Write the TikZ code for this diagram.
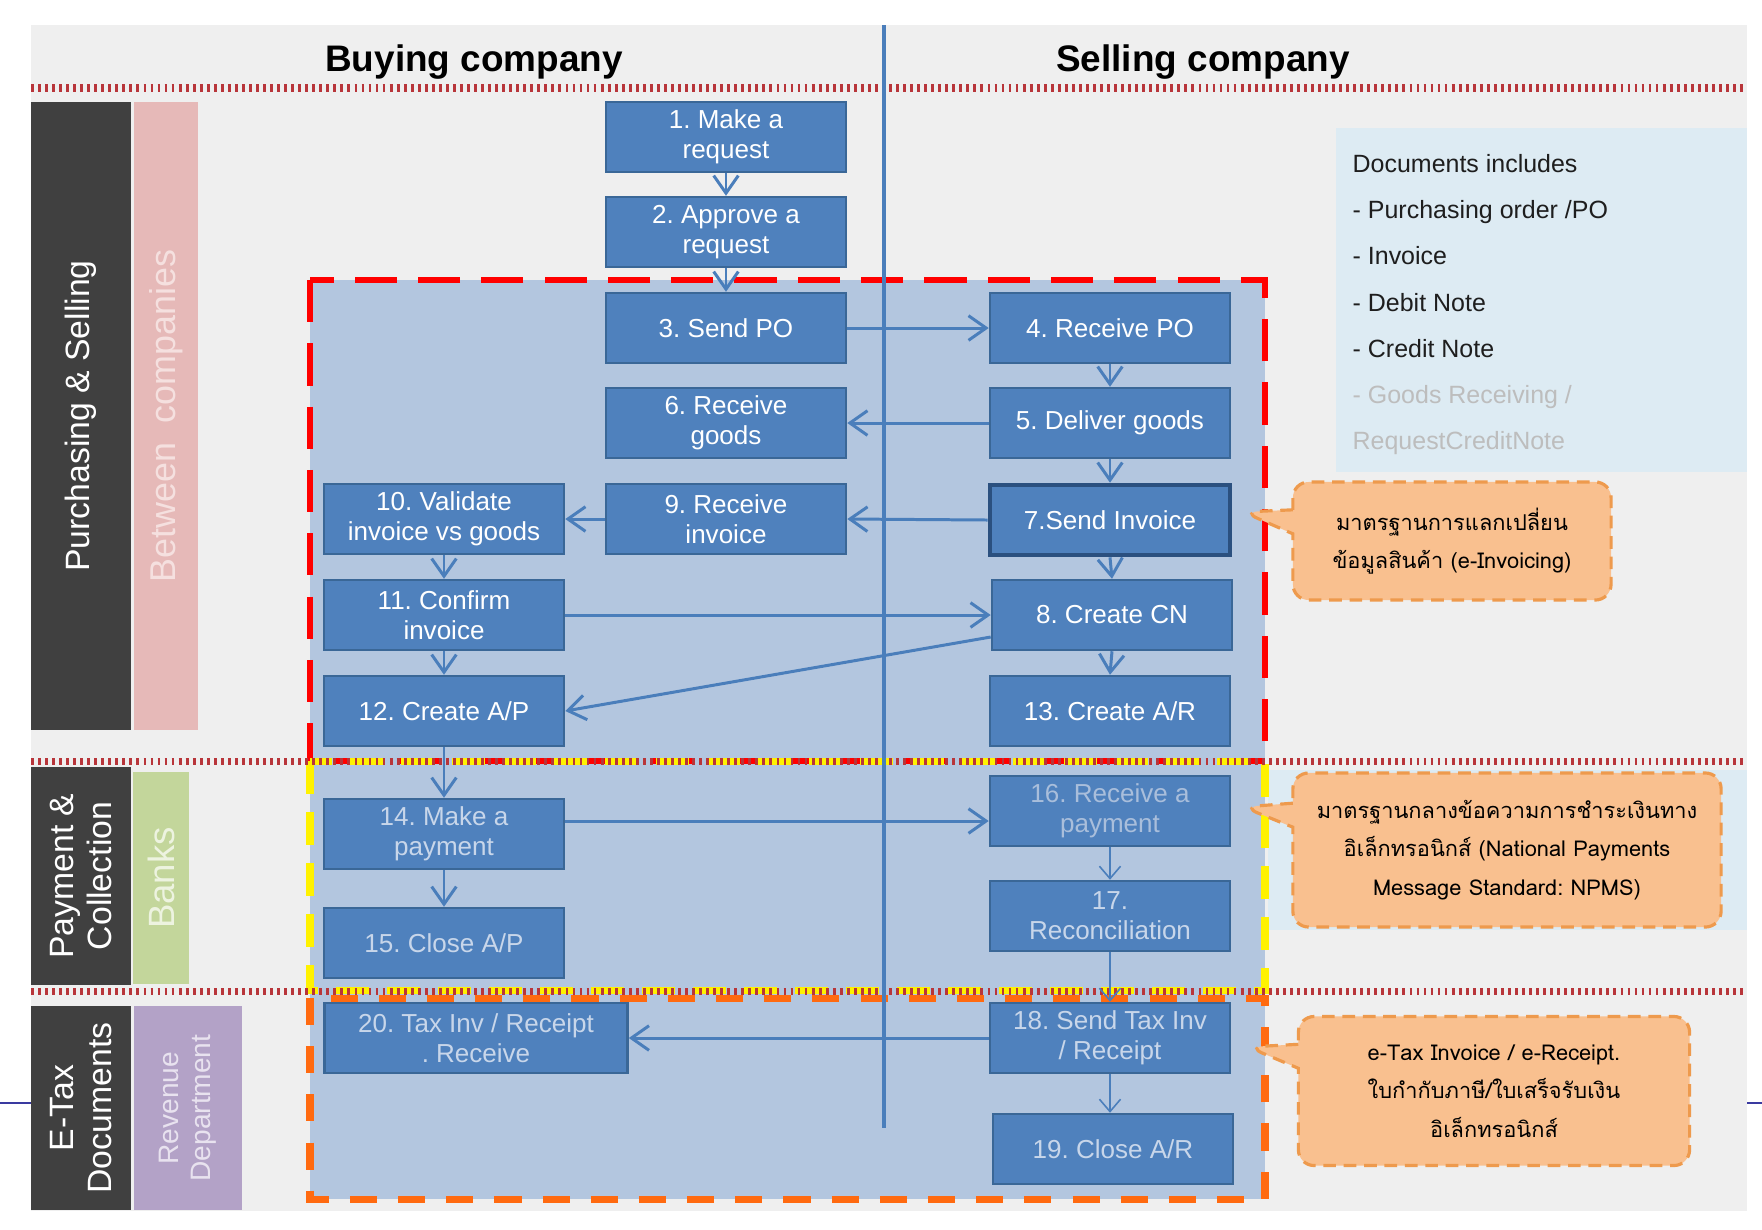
\documentclass[tikz,border=0pt]{standalone}
\usepackage{fontspec}
\setmainfont{Liberation Sans}
\newfontfamily\thaifont[Script=Thai]{Loma}
\usepackage{tikz}
\usetikzlibrary{arrows.meta,shapes.callouts}
\frenchspacing
\definecolor{panel}{HTML}{EFEFEF}
\definecolor{boxblue}{HTML}{4F81BD}
\definecolor{boxedge}{HTML}{3A6797}
\definecolor{boxdeep}{HTML}{2B507F}
\definecolor{zone}{HTML}{B3C6DF}
\definecolor{flowblue}{HTML}{4A7EBB}
\definecolor{dark}{HTML}{404040}
\definecolor{pinkband}{HTML}{E6B9B8}
\definecolor{pinktext}{HTML}{F5E0DF}
\definecolor{greenband}{HTML}{C3D69B}
\definecolor{greentext}{HTML}{EDF3E0}
\definecolor{purpleband}{HTML}{B3A2C7}
\definecolor{purpletext}{HTML}{E8E2EF}
\definecolor{sepred}{HTML}{B8353A}
\definecolor{calloutfill}{HTML}{F9C08F}
\definecolor{calloutedge}{HTML}{EE9A4D}
\definecolor{docfill}{HTML}{DDEBF3}
\definecolor{doctext}{HTML}{1E1E1E}
\definecolor{docfaint}{HTML}{BDBDBD}
\definecolor{fadetext}{HTML}{C8D6EA}
\definecolor{fainttext}{HTML}{A9BEDB}
\definecolor{orangezone}{HTML}{FF6A10}
\definecolor{edgeline}{HTML}{3A3AA0}
\tikzset{
  proc/.style={draw=boxedge, line width=0.7pt, fill=boxblue, text=white, minimum width=2.4cm,
    minimum height=0.7cm, inner sep=0pt, align=center, font=\fontsize{7.4}{8.5}\selectfont},
  procf/.style={proc, text=fadetext},
  flow/.style={draw=flowblue, line width=0.85pt, -{Straight Barb[length=5pt,width=7pt]}},
  flowt/.style={draw=flowblue, line width=0.45pt, -{Straight Barb[length=3.5pt,width=6pt]}},
  sep/.style={draw=sepred, line width=2pt, dash pattern=on 0.8pt off 1.2pt},
  axis/.style={draw=flowblue, line width=1pt},
  band/.style={rotate=90, align=center, inner sep=0pt, text=white, font=\fontsize{9.6}{10.8}\selectfont},
  head/.style={text=black, font=\bfseries\fontsize{10.5}{12}\selectfont},
  doc/.style={align=left, inner sep=0pt, text=doctext, font=\fontsize{7.1}{13.1}\selectfont},
  zonered/.style={draw=red, line width=1.6pt, dash pattern=on 12pt off 6pt},
  zoneyellow/.style={draw=yellow, line width=2pt, dash pattern=on 9.5pt off 5pt},
  zoneorange/.style={draw=orangezone, line width=2pt, dash pattern=on 7.7pt off 6pt},
  note/.style={rectangle callout, draw=calloutedge, fill=calloutfill, line width=0.9pt,
    dash pattern=on 3.6pt off 2.2pt, rounded corners=4.5pt, callout pointer width=0.24cm,
    align=center, inner sep=0pt, text=black, font=\thaifont\fontsize{6.2}{10.9}\selectfont}
}
\begin{document}
\begin{tikzpicture}[x=0.01cm, y=-0.01cm]
  \useasboundingbox (0,0) rectangle (1762,1229);
  \draw[edgeline, line width=0.6pt] (0,1103) -- (1762,1103);
  \fill[panel] (31,25) rectangle (1747,1211);
  \fill[docfill] (1336,128) rectangle (1747,472);
  \fill[docfill] (1268,770) rectangle (1747,930);

  % lanes
  \node[band, fill=dark, minimum width=6.27cm, minimum height=1.00cm] (lane1) at (81,416) {Purchasing \& Selling};
  \node[band, fill=pinkband, text=pinktext, minimum width=6.27cm, minimum height=0.63cm, font=\fontsize{10.2}{11}\selectfont] (sub1) at (166,416) {Between~ companies};
  \node[band, fill=dark, minimum width=2.17cm, minimum height=1.00cm] (lane2) at (81,876) {Payment \&\\Collection};
  \node[band, fill=greenband, text=greentext, minimum width=2.11cm, minimum height=0.55cm, font=\fontsize{10.4}{11}\selectfont] (sub2) at (161,878) {Banks};
  \node[band, fill=dark, minimum width=2.04cm, minimum height=1.00cm] (lane3) at (81,1108) {E-Tax\\Documents};
  \node[band, fill=purpleband, text=purpletext, minimum width=2.04cm, minimum height=1.08cm, font=\fontsize{8}{9}\selectfont] (sub3) at (188,1108) {Revenue\\Department};

  % zones
  \fill[zone] (310,280) rectangle (1265,1199);
  \draw[zonered] (310,280) rectangle (1265,761);
  \draw[zoneyellow] (310,761) rectangle (1265,990);
  \draw[zoneorange] (310,998) rectangle (1265,1199);
  \foreach \y in {88,761,991}
    \draw[sep] (31,\y) -- (1747,\y);

  \coordinate (axtop) at (884,25);
  \coordinate (axbot) at (884,1128);
  \draw[axis] (axtop) -- (axbot);

  \node[head] (buy) at (474,62) {Buying company};
  \node[head] (sell) at (1203,62) {Selling company};

  % steps
  \node[proc] (s1) at (726,137) {1. Make a\\request};
  \node[proc] (s2) at (726,232) {2. Approve a\\request};
  \node[proc] (s3) at (726,328) {3. Send PO};
  \node[proc] (s4) at (1110,328) {4. Receive PO};
  \node[proc] (s5) at (1110,423) {5. Deliver goods};
  \node[proc] (s6) at (726,423) {6. Receive\\goods};
  \node[proc, draw=boxdeep, line width=1.3pt] (s7) at (1110,520) {7.Send Invoice};
  \node[proc] (s8) at (1112,615) {8. Create CN};
  \node[proc] (s9) at (726,519) {9. Receive\\invoice};
  \node[proc] (s10) at (444,519) {10. Validate\\invoice vs goods};
  \node[proc] (s11) at (444,615) {11. Confirm\\invoice};
  \node[proc] (s12) at (444,711) {12. Create A/P};
  \node[proc] (s13) at (1110,711) {13. Create A/R};
  \node[procf] (s14) at (444,834) {14. Make a\\payment};
  \node[procf] (s15) at (444,943) {15. Close A/P};
  \node[procf, text=fainttext] (s16) at (1110,811) {16. Receive a\\payment};
  \node[procf] (s17) at (1110,916) {17.\\Reconciliation};
  \node[procf] (s18) at (1110,1038) {18. Send Tax Inv\\/ Receipt};
  \node[procf] (s19) at (1113,1149) {19. Close A/R};
  \node[procf, minimum width=3.03cm] (s20) at (476,1038) {20. Tax Inv / Receipt\\. Receive};

  % flows
  \draw[flow] (s1.south) -- (s2.north);
  \draw[flow] (s2.south) -- (s3.north);
  \draw[flow] (s3.east) -- (s4.west);
  \draw[flow] (s4.south) -- (s5.north);
  \draw[flow] (s5.west) -- (s6.east);
  \draw[flow] (s5.south) -- (s7.north);
  \draw[flow] (s7.west) -- (s9.east);
  \draw[flow] (s9.west) -- (s10.east);
  \draw[flow] (s10.south) -- (s11.north);
  \draw[flow] (s11.south) -- (s12.north);
  \draw[flow] (s11.east) -- (s8.west);
  \draw[flow] (s7.south) -- (s8.north);
  \draw[flow] ([yshift=-0.22cm]s8.west) -- (s12.east);
  \draw[flow] (s8.south) -- (s13.north);
  \draw[flow] (s12.south) -- (s14.north);
  \draw[flow] ([yshift=0.13cm]s14.east) -- ([yshift=0.13cm]s14.east -| s16.west);
  \draw[flow] (s14.south) -- (s15.north);
  \draw[flowt] (s16.south) -- (s17.north);
  \draw[flowt] (s17.south) -- (s18.north);
  \draw[flowt] (s18.south) -- (s18.south |- s19.north);
  \draw[flow] (s18.west) -- (s20.east);

  % documents
  \node[doc, anchor=north west] (docs) at (1352,154) {Documents includes\\- Purchasing order /PO\\- Invoice\\- Debit Note\\- Credit Note\\\textcolor{docfaint}{- Goods Receiving /}\\\textcolor{docfaint}{RequestCreditNote}};

  % standards
  \coordinate (tip1) at (1243,512);
  \coordinate (tip2) at (1243,807);
  \coordinate (tip3) at (1248,1047);
  \node[note, minimum width=3.18cm, minimum height=1.18cm, callout absolute pointer=(tip1)] (std1) at (1452,541) {มาตรฐานการแลกเปลี่ยน\\ข้อมูลสินค้า (e-Invoicing)};
  \node[note, minimum width=4.28cm, minimum height=1.54cm, callout absolute pointer=(tip2)] (std2) at (1507,850) {มาตรฐานกลางข้อความการชำระเงินทาง\\อิเล็กทรอนิกส์ (National Payments\\Message Standard: NPMS)};
  \node[note, minimum width=3.91cm, minimum height=1.49cm, callout absolute pointer=(tip3)] (std3) at (1494,1091) {e-Tax Invoice / e-Receipt.\\ใบกำกับภาษี/ใบเสร็จรับเงิน\\อิเล็กทรอนิกส์};
\end{tikzpicture}
\end{document}
